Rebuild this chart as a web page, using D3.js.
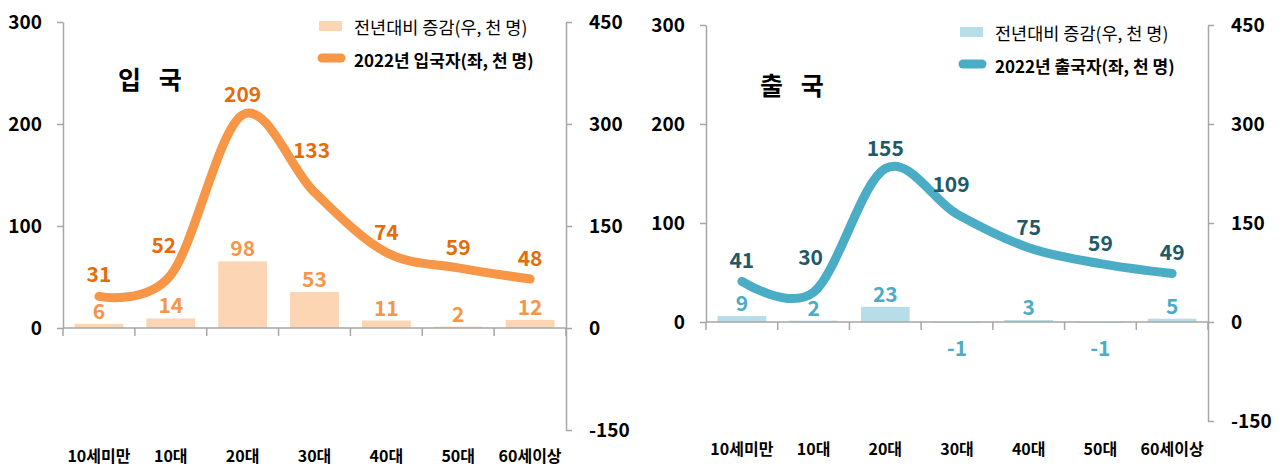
<!DOCTYPE html>
<html>
<head>
<meta charset="utf-8">
<script src="https://cdn.jsdelivr.net/npm/d3@7"></script>
<style>
  body { margin: 0; background: #fff; }
  text { font-family: "Noto Sans CJK KR", "Noto Sans", sans-serif; }
</style>
</head>
<body>
<svg width="1288" height="466"></svg>
<script>
// data
var ageGroups = ["10세미만", "10대", "20대", "30대", "40대", "50대", "60세이상"];
var entry2022 = [31, 52, 209, 133, 74, 59, 48];
var entryChange = [6, 14, 98, 53, 11, 2, 12];
var exit2022 = [41, 30, 155, 109, 75, 59, 49];
var exitChange = [9, 2, 23, -1, 3, -1, 5];
var leftTicks = [0, 100, 200, 300];
var rightTicks = [-150, 0, 150, 300, 450];

var svg = d3.select("svg");

// one panel per chart
function drawPanel(p) {
  var g = svg.append("g");

  var x = d3.scaleBand()
    .domain(ageGroups)
    .range([p.x0, p.x1])
    .paddingInner(0.32)
    .paddingOuter(0.16);

  var yL = d3.scaleLinear().domain([0, 300]).range([p.zero, p.top]);
  var yR = d3.scaleLinear().domain([-150, 450]).range([p.bottom, p.top]);

  var step = (p.x1 - p.x0) / ageGroups.length;
  var cx = function(d) { return x(d) + x.bandwidth() / 2; };

  // bars (right axis)
  g.selectAll(".bar")
    .data(p.change)
    .enter()
    .append("rect")
      .attr("x", function(d, i) { return x(ageGroups[i]); })
      .attr("y", function(d) { return Math.min(yR(d), yR(0)); })
      .attr("width", x.bandwidth())
      .attr("height", function(d) { return Math.abs(yR(d) - yR(0)); })
      .attr("fill", p.barColor);

  // left axis
  g.append("g")
    .attr("transform", "translate(" + p.x0 + ",0)")
    .call(d3.axisLeft(yL).tickValues(leftTicks).tickFormat(String)
      .tickSize(6).tickSizeOuter(0).tickPadding(15))
    .call(styleAxis);

  // right axis
  g.append("g")
    .attr("transform", "translate(" + p.x1 + ",0)")
    .call(d3.axisRight(yR).tickValues(rightTicks).tickFormat(String)
      .tickSize(6).tickSizeOuter(0).tickPadding(17))
    .call(styleAxis);

  // zero line + category boundary ticks
  g.append("line")
    .attr("x1", p.x0).attr("x2", p.x1)
    .attr("y1", p.zero).attr("y2", p.zero)
    .attr("stroke", "#a6a6a6").attr("stroke-width", 1.5);

  g.selectAll(".ctick")
    .data(d3.range(ageGroups.length + 1))
    .enter()
    .append("line")
      .attr("x1", function(i) { return p.x0 + i * step; })
      .attr("x2", function(i) { return p.x0 + i * step; })
      .attr("y1", p.zero).attr("y2", p.zero + 8)
      .attr("stroke", "#a6a6a6").attr("stroke-width", 1.5);

  // category labels
  g.selectAll(".cat")
    .data(ageGroups)
    .enter()
    .append("text")
      .attr("x", cx)
      .attr("y", p.catY)
      .attr("text-anchor", "middle")
      .attr("dominant-baseline", "central")
      .style("font-size", "16px")
      .style("font-weight", "bold")
      .text(function(d) { return d; });

  // smoothed line (left axis)
  var line = d3.line()
    .x(function(d, i) { return cx(ageGroups[i]); })
    .y(function(d) { return yL(d); })
    .curve(d3.curveCardinal.tension(0));

  g.append("path")
    .datum(p.total)
    .attr("d", line)
    .attr("fill", "none")
    .attr("stroke", p.lineColor)
    .attr("stroke-width", 9)
    .attr("stroke-linecap", "round")
    .attr("stroke-linejoin", "round");

  // bar labels
  g.selectAll(".blabel")
    .data(p.change)
    .enter()
    .append("text")
      .attr("x", function(d, i) { return cx(ageGroups[i]); })
      .attr("y", function(d) { return d >= 0 ? yR(d) - 14 : yR(0) + 25; })
      .attr("text-anchor", "middle")
      .attr("dominant-baseline", "central")
      .style("font-size", "21px")
      .style("font-weight", "bold")
      .attr("fill", p.barLabelColor)
      .text(function(d) { return d; });

  // line labels
  g.selectAll(".llabel")
    .data(p.total)
    .enter()
    .append("text")
      .attr("x", function(d, i) { return cx(ageGroups[i]) + p.labelShift[i]; })
      .attr("y", function(d, i) { return yL(d) - p.labelLift[i]; })
      .attr("text-anchor", "middle")
      .attr("dominant-baseline", "central")
      .style("font-size", "21px")
      .style("font-weight", "bold")
      .attr("fill", p.lineLabelColor)
      .text(function(d) { return d; });

  // title
  g.append("text")
    .attr("x", p.titleX)
    .attr("y", p.titleY)
    .attr("dominant-baseline", "central")
    .style("font-size", "25px")
    .style("font-weight", "bold")
    .style("letter-spacing", "6px")
    .text(p.title);

  // legend
  g.append("rect")
    .attr("x", p.legendX).attr("y", p.legendY - 5)
    .attr("width", 23).attr("height", 10)
    .attr("fill", p.barColor);
  g.append("text")
    .attr("x", p.legendX + 35).attr("y", p.legendY)
    .attr("dominant-baseline", "central")
    .style("font-size", "17.5px")
    .text("전년대비 증감(우, 천 명)");

  g.append("line")
    .attr("x1", p.legendX + 3).attr("x2", p.legendX + 22)
    .attr("y1", p.legendY + 32).attr("y2", p.legendY + 32)
    .attr("stroke", p.lineColor)
    .attr("stroke-width", 9)
    .attr("stroke-linecap", "round");
  g.append("text")
    .attr("x", p.legendX + 35).attr("y", p.legendY + 33)
    .attr("dominant-baseline", "central")
    .style("font-size", "17px")
    .style("font-weight", "bold")
    .text(p.legendLine);
}

function styleAxis(sel) {
  sel.select(".domain").attr("stroke", "#a6a6a6").attr("stroke-width", 1.5);
  sel.selectAll(".tick line").attr("stroke", "#a6a6a6").attr("stroke-width", 1.5);
  sel.selectAll(".tick text")
    .attr("fill", "#000")
    .style("font-size", "19px")
    .style("font-weight", "bold");
}

drawPanel({
  x0: 63, x1: 566, zero: 328, top: 22, bottom: 430,
  change: entryChange, total: entry2022,
  barColor: "#fcd5b5", barLabelColor: "#f79646",
  lineColor: "#f79646", lineLabelColor: "#e46c0a",
  labelLift: [23, 31, 22, 43, 22, 22, 22],
  labelShift: [0, -7, 0, -3, 0, 0, 0],
  catY: 455,
  title: "입 국", titleX: 118, titleY: 78,
  legendX: 319, legendY: 26,
  legendLine: "2022년 입국자(좌, 천 명)"
});

drawPanel({
  x0: 706, x1: 1208, zero: 322, top: 25, bottom: 421,
  change: exitChange, total: exit2022,
  barColor: "#b7dee8", barLabelColor: "#4bacc6",
  lineColor: "#4bacc6", lineLabelColor: "#215968",
  labelLift: [22, 36, 22, 31, 22, 22, 22],
  labelShift: [0, -3, 0, -6, 0, 0, 0],
  catY: 448,
  title: "출 국", titleX: 760, titleY: 84,
  legendX: 960, legendY: 32,
  legendLine: "2022년 출국자(좌, 천 명)"
});
</script>
</body>
</html>
